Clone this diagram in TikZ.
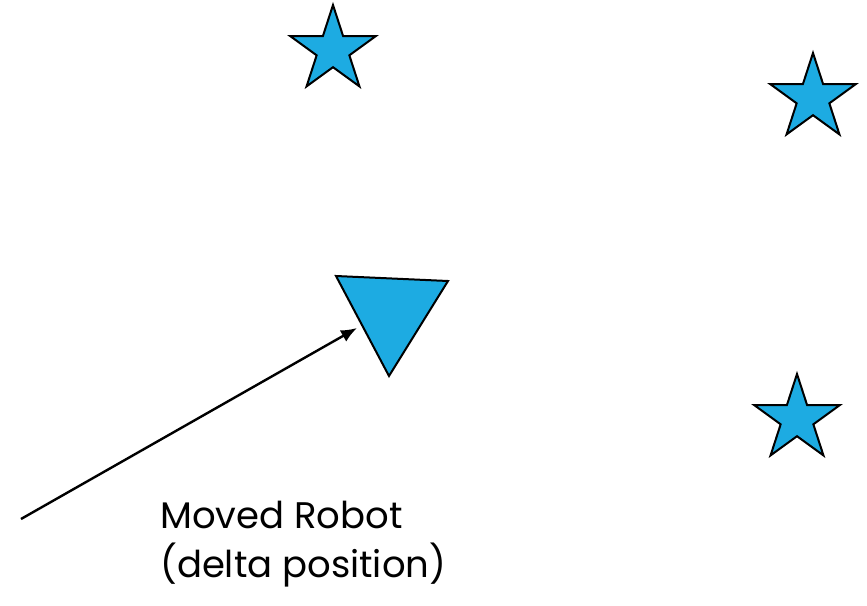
\documentclass[tikz,border=0pt]{standalone}
\usepackage{fontspec}
\setmainfont{Poppins}
\usepackage{tikz}
\usetikzlibrary{arrows.meta, shapes.geometric}
\definecolor{robotblue}{RGB}{29,171,226}

\begin{document}
\begin{tikzpicture}[
                x=1pt, y=1pt,
                landmark/.style={star, star points=5, star point ratio=2.618, draw, line width=2pt, fill=robotblue, minimum size=90pt, inner sep=0pt},
                robot/.style={draw, line width=2pt, fill=robotblue, line join=miter},
                move/.style={-{Latex[length=16pt, width=13pt]}, line width=2.4pt},
                caption/.style={font=\fontsize{37}{49}\selectfont, align=left, anchor=base west, inner sep=0pt}
            ]
                \useasboundingbox (0,0) rectangle (867,-605);
                \node[landmark] (star1) at (333,-50) {};
                \node[landmark] (star2) at (813,-98) {};
                \node[landmark] (star3) at (797,-419) {};
                
                \draw[robot] (336,-276) -- (448,-281) -- (389,-376) -- cycle;
                
                \coordinate (start) at (21,-519);
                \coordinate (tip) at (357,-328);
                \draw[move] (start) -- (tip);
                
                \node[caption] (label) at (160,-577) {Moved Robot\\(delta position)};
            \end{tikzpicture}
\end{document}
